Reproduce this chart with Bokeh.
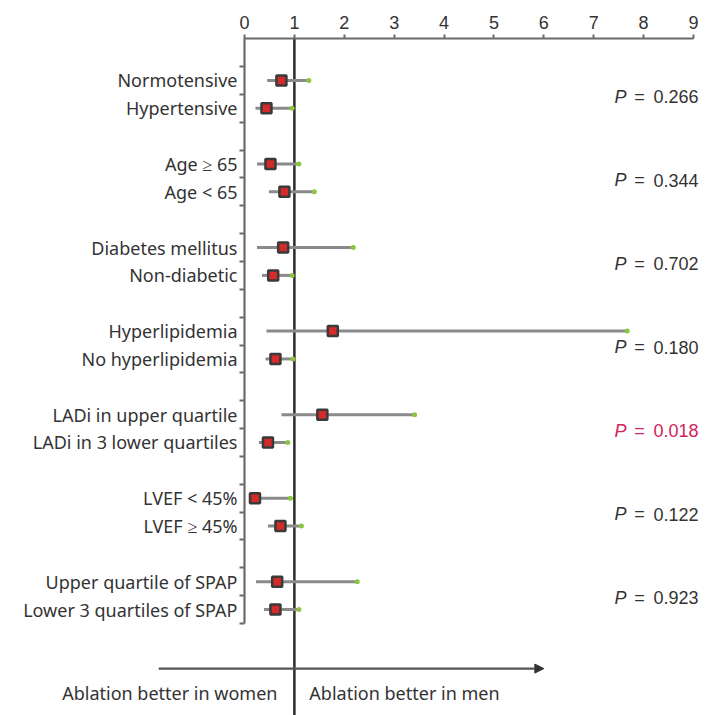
from bokeh.plotting import figure
from bokeh.models import (Range1d, LinearAxis, FixedTicker, ColumnDataSource, Arrow,
                          NormalHead)
from bokeh.core.properties import value
from bokeh.embed import file_html
from bokeh.resources import INLINE

# ---------------- data ----------------
labels = ["Normotensive", "Hypertensive",
          "Age \u2265 65", "Age < 65",
          "Diabetes mellitus", "Non-diabetic",
          "Hyperlipidemia", "No hyperlipidemia",
          "LADi in upper quartile", "LADi in 3 lower quartiles",
          "LVEF < 45%", "LVEF \u2265 45%",
          "Upper quartile of SPAP", "Lower 3 quartiles of SPAP"]
estimate = [0.74, 0.44, 0.52, 0.80, 0.775, 0.575, 1.77, 0.62, 1.56, 0.47, 0.21, 0.72, 0.655, 0.62]
lower = [0.455, 0.22, 0.25, 0.49, 0.25, 0.35, 0.44, 0.42, 0.74, 0.29, 0.09, 0.47, 0.23, 0.39]
upper = [1.29, 0.955, 1.09, 1.40, 2.18, 0.955, 7.67, 0.97, 3.41, 0.87, 0.92, 1.14, 2.26, 1.09]
p_values = ["0.266", "0.344", "0.702", "0.180", "0.018", "0.122", "0.923"]
significant = [False, False, False, False, True, False, False]
x_ticks = [0, 1, 2, 3, 4, 5, 6, 7, 8, 9]
left_text = "Ablation better in women"
right_text = "Ablation better in men"

# ---------------- layout helpers ----------------
W, H = 712, 715
px_per_x = 49.89
x0_px = 244.0
x_start = -x0_px / px_per_x
x_end = x_start + W / px_per_x

px_per_y = 27.85
y0_px = 66.0
y_top = -y0_px / px_per_y
y_bot = y_top + H / px_per_y

row_y = []
for g in range(7):
    row_y += [3 * g + 0.5, 3 * g + 1.5]
group_y = [3 * g + 1.08 for g in range(7)]
boundaries = list(range(0, 21))

p = figure(width=W, height=H, output_backend="svg", toolbar_location=None,
           x_range=Range1d(x_start, x_end), y_range=Range1d(y_bot, y_top),
           min_border=0, outline_line_color=None, x_axis_location=None,
           y_axis_location=None)
p.grid.visible = False
p.background_fill_color = "white"
p.border_fill_color = "white"

axis_color = "#6a6a6a"
text_color = "#333333"
label_font = "Noto Sans"
label_size = "18px"

# top axis
top = LinearAxis(fixed_location=-1, bounds=(0, 9), ticker=FixedTicker(ticks=x_ticks, minor_ticks=[]))
top.axis_line_color = axis_color
top.axis_line_width = 2.2
top.major_tick_line_color = axis_color
top.major_tick_line_width = 2
top.major_tick_out = 4
top.major_tick_in = 0
top.minor_tick_line_color = None
top.major_label_standoff = 6
top.major_label_text_font = "Liberation Sans"
top.major_label_text_font_size = "18px"
top.major_label_text_color = text_color
p.add_layout(top, "above")

# left axis with category labels
left = LinearAxis(fixed_location=0, bounds=(-1, 20),
                  ticker=FixedTicker(ticks=row_y, minor_ticks=boundaries))
left.major_label_overrides = {y: lab for y, lab in zip(row_y, labels)}
left.axis_line_color = axis_color
left.axis_line_width = 2.2
left.major_tick_line_color = None
left.major_tick_out = 0
left.major_tick_in = 0
left.minor_tick_line_color = axis_color
left.minor_tick_line_width = 2
left.minor_tick_out = 5
left.minor_tick_in = 0
left.major_label_standoff = 2
left.major_label_text_font = label_font
left.major_label_text_font_size = label_size
left.major_label_text_color = text_color
p.add_layout(left, "left")

# reference line at 1
p.segment(x0=[1], y0=[-1], x1=[1], y1=[y_bot], line_color="#2b2b2b", line_width=2.5)

src = ColumnDataSource(dict(y=row_y, est=estimate, lo=lower, hi=upper))
p.segment(x0="lo", y0="y", x1="hi", y1="y", source=src, line_color="#8a8a8a", line_width=3)
p.scatter(x="hi", y="y", source=src, marker="circle", size=5, fill_color="#8cc63f",
          line_color=None)
p.scatter(x="est", y="y", source=src, marker="square", size=10, fill_color="#d42a2a",
          line_color="#3a3a3a", line_width=2.5)

# bottom arrow
p.add_layout(Arrow(x_start=-1.72, y_start=21.62, x_end=6.0, y_end=21.62,
                   line_color="#555555", line_width=2.2,
                   end=NormalHead(size=9, fill_color="#333333", line_color="#333333")))
p.text(x=[0.66], y=[22.5], text=[left_text], text_align="right", text_baseline="middle",
       text_font=value(label_font), text_font_size=label_size, text_color=text_color)
p.text(x=[1.3], y=[22.5], text=[right_text], text_align="left", text_baseline="middle",
       text_font=value(label_font), text_font_size=label_size, text_color=text_color)

# P values
p_colors = ["#d0245a" if s else text_color for s in significant]
n = len(p_values)
psrc = ColumnDataSource(dict(y=group_y, num=p_values, c=p_colors, x=[9.10] * n,
                             P=["P"] * n, eq=["="] * n))
p.text(x="x", y="y", text="num", source=psrc, text_align="right", text_baseline="middle",
       text_font=value("Liberation Sans"), text_font_size="18px", text_color="c")
p.text(x="x", y="y", text="eq", source=psrc, text_align="center", text_baseline="middle",
       x_offset=-59, text_font=value("Liberation Sans"), text_font_size="18px", text_color="c")
p.text(x="x", y="y", text="P", source=psrc, text_align="right", text_baseline="middle",
       x_offset=-72, text_font=value("Liberation Sans"), text_font_size="18px",
       text_font_style="italic", text_color="c")

open("out.html", "w").write(file_html(p, INLINE))
